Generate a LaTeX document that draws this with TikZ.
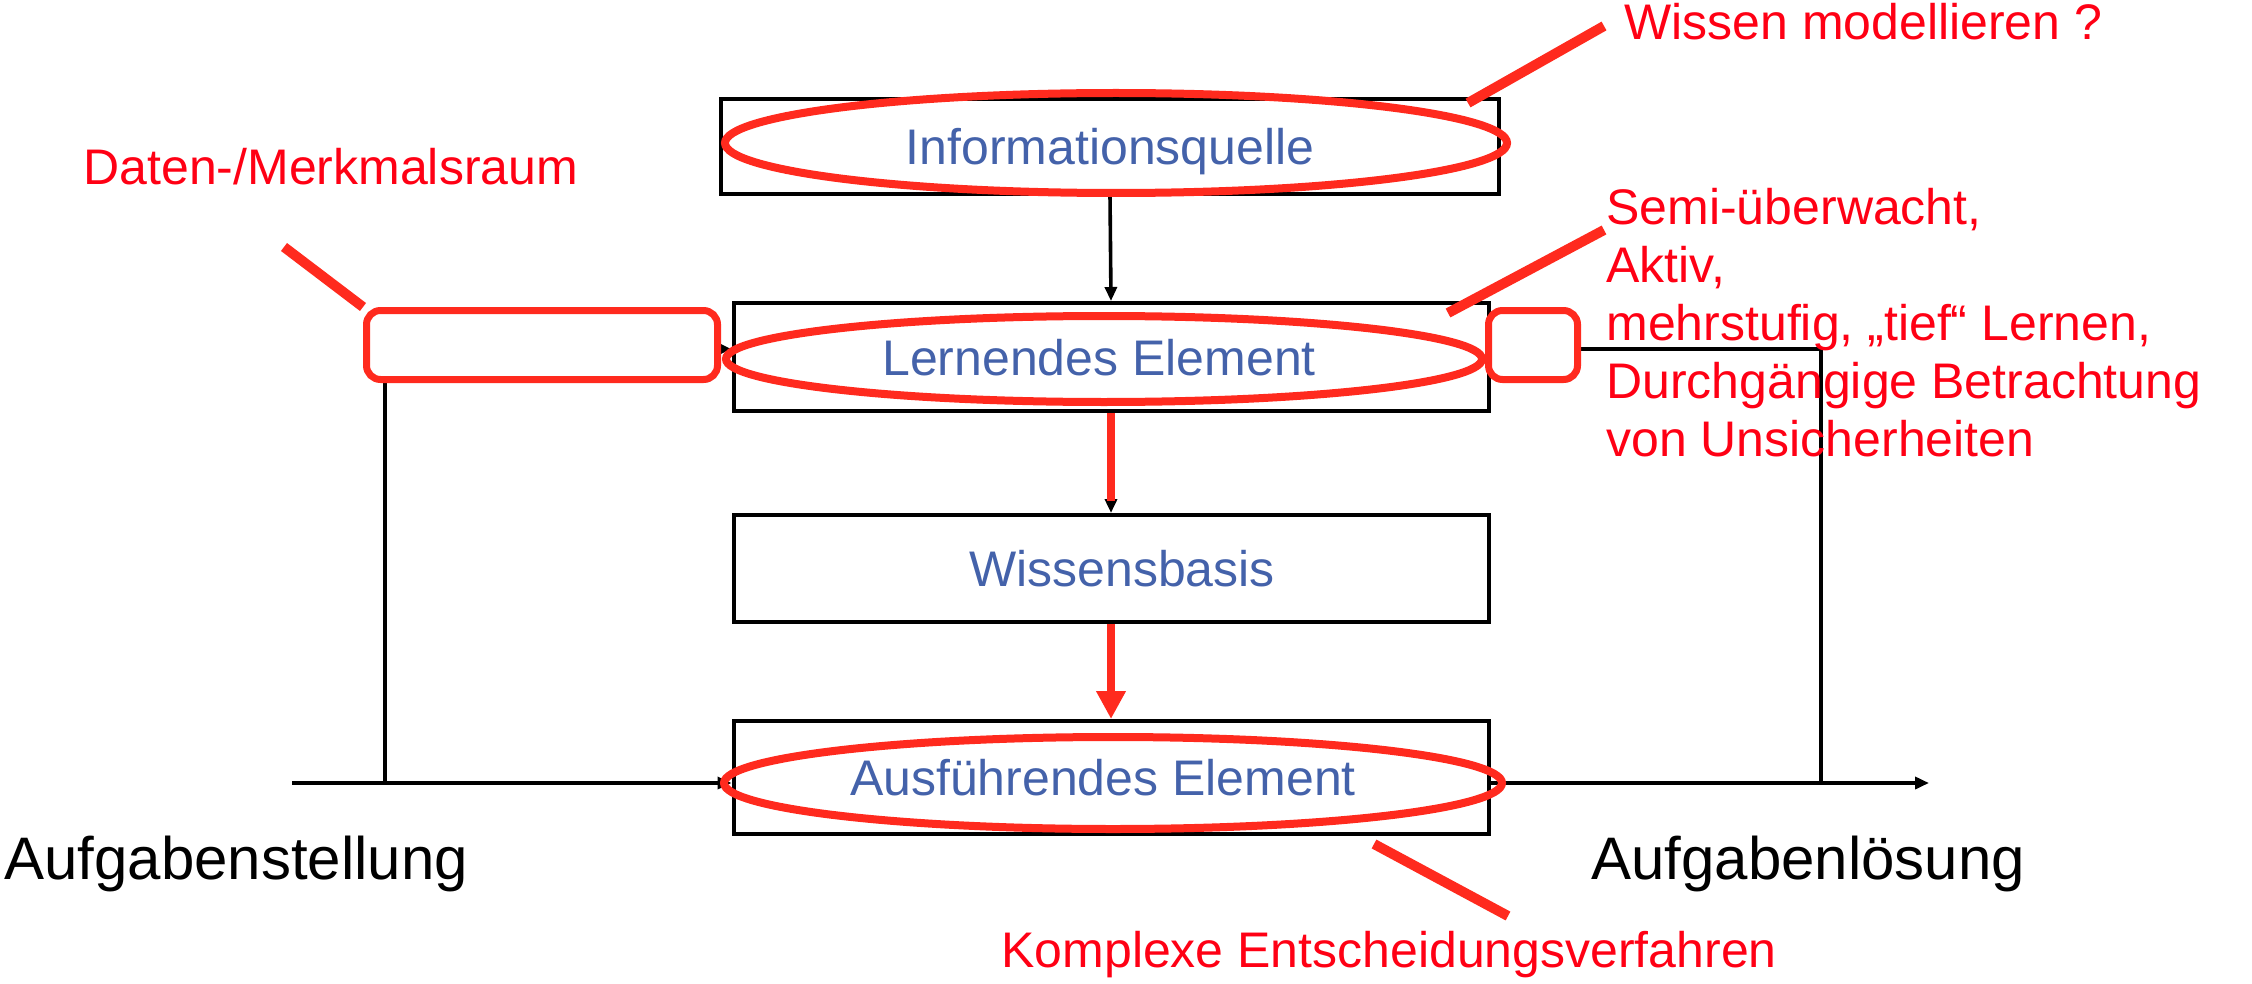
\documentclass[tikz,border=0pt]{standalone}
\usepackage{fontspec}
\setmainfont{Liberation Sans}
\usetikzlibrary{arrows.meta,shapes.geometric,shadows}
\definecolor{boxblue}{RGB}{68,98,170}
\definecolor{markred}{RGB}{255,42,30}
\definecolor{textred}{RGB}{255,0,20}
\begin{document}
\begin{tikzpicture}[x=0.5pt,y=-0.5pt,
  blkbox/.style={draw=black, line width=2pt, fill=white, inner sep=0pt, text=boxblue,
    font=\fontsize{25}{30}\selectfont, text height=18pt, text depth=0pt},
  flow/.style={line width=1.8pt, -{Triangle[length=7pt,width=6pt]}},
  redell/.style={draw=markred, line width=4pt, ellipse, inner sep=0pt},
  redrbox/.style={draw=markred, line width=3.5pt, fill=white, rounded corners=7pt, inner sep=0pt,
    drop shadow={shadow xshift=0.8pt, shadow yshift=-1.6pt, opacity=0.22, fill=black}},
  redline/.style={draw=markred, line width=5pt},
  redlabel/.style={text=textred, font=\fontsize{25}{29}\selectfont, inner sep=0pt},
  blklabel/.style={text=black, font=\fontsize{30}{35}\selectfont, inner sep=0pt}]
\useasboundingbox (0,0) rectangle (2252,984);

% main boxes
\node[blkbox, minimum width=389pt, minimum height=47.5pt] (infoq) at (1110,146.5) {Informationsquelle};
\node[blkbox, minimum width=377.5pt, minimum height=54pt] (lern) at (1111,357) {\hspace*{-12pt}Lernendes Element};
\node[blkbox, minimum width=377.5pt, minimum height=53.5pt] (wiss) at (1111,568.5) {\hspace*{11pt}Wissensbasis};
\node[blkbox, minimum width=377.5pt, minimum height=56.5pt] (ausf) at (1111,777.5) {\hspace*{-8pt}Ausführendes Element};

% helper coordinates
\coordinate (inStart) at (292,783);
\coordinate (outEnd) at (1929,783);
\coordinate (lj) at (385,783);
\coordinate (lc) at (385,349);
\coordinate (rj) at (1821,783);
\coordinate (rc) at (1821,349);

% black connectors
\draw[flow] (inStart) -- (ausf.west |- inStart);
\draw[flow] (ausf.east |- outEnd) -- (outEnd);
\draw[flow] (lj) -- (lc) -- (lern.west |- lc);
\draw[flow] (rj) -- (rc) -- (lern.east |- rc);
\draw[flow] (infoq.south) -- (lern.north);
\draw[flow] (lern.south) -- (wiss.north);

% red arrows
\draw[markred, line width=4pt, shorten >=6pt] (lern.south) -- (wiss.north);
\draw[markred, line width=4pt, -{Triangle[length=14pt,width=14pt]}] (wiss.south) -- (ausf.north);

% red ellipses
\node[redell, minimum width=391pt, minimum height=50pt] (ellI) at (1116,143) {};
\node[redell, minimum width=378pt, minimum height=43pt] (ellL) at (1104,359) {};
\node[redell, minimum width=389pt, minimum height=46pt] (ellA) at (1113,783) {};

% red rounded boxes
\node[redrbox, minimum width=175.5pt, minimum height=34.5pt] (dbox) at (542,345) {};
\node[redrbox, minimum width=44.5pt, minimum height=34.5pt] (sbox) at (1533,345) {};

% red pointer lines
\coordinate (dA) at (284,247);
\coordinate (wA) at (1468,103);
\coordinate (wB) at (1604,26);
\coordinate (sA) at (1448,313);
\coordinate (sB) at (1604,230);
\coordinate (kA) at (1374,844);
\coordinate (kB) at (1508,916);
\draw[redline] (dA) -- (dbox.north west);
\draw[redline] (wA) -- (wB);
\draw[redline] (sA) -- (sB);
\draw[redline] (kA) -- (kB);

% labels
\node[redlabel, anchor=base west] (wm) at (1624,40) {Wissen modellieren ?};
\node[redlabel, anchor=base west] (dm) at (83,185) {Daten-/Merkmalsraum};
\node[redlabel, anchor=base west] (ke) at (1001,967) {Komplexe Entscheidungsverfahren};
\node[redlabel, anchor=north west, align=left] (semi) at (1606,188)
  {Semi-überwacht,\\Aktiv,\\mehrstufig, „tief“ Lernen,\\Durchgängige Betrachtung\\von Unsicherheiten};
\node[blklabel, anchor=base west] (as) at (4,879) {Aufgabenstellung};
\node[blklabel, anchor=base west] (al) at (1591,879) {Aufgabenlösung};
\end{tikzpicture}
\end{document}
